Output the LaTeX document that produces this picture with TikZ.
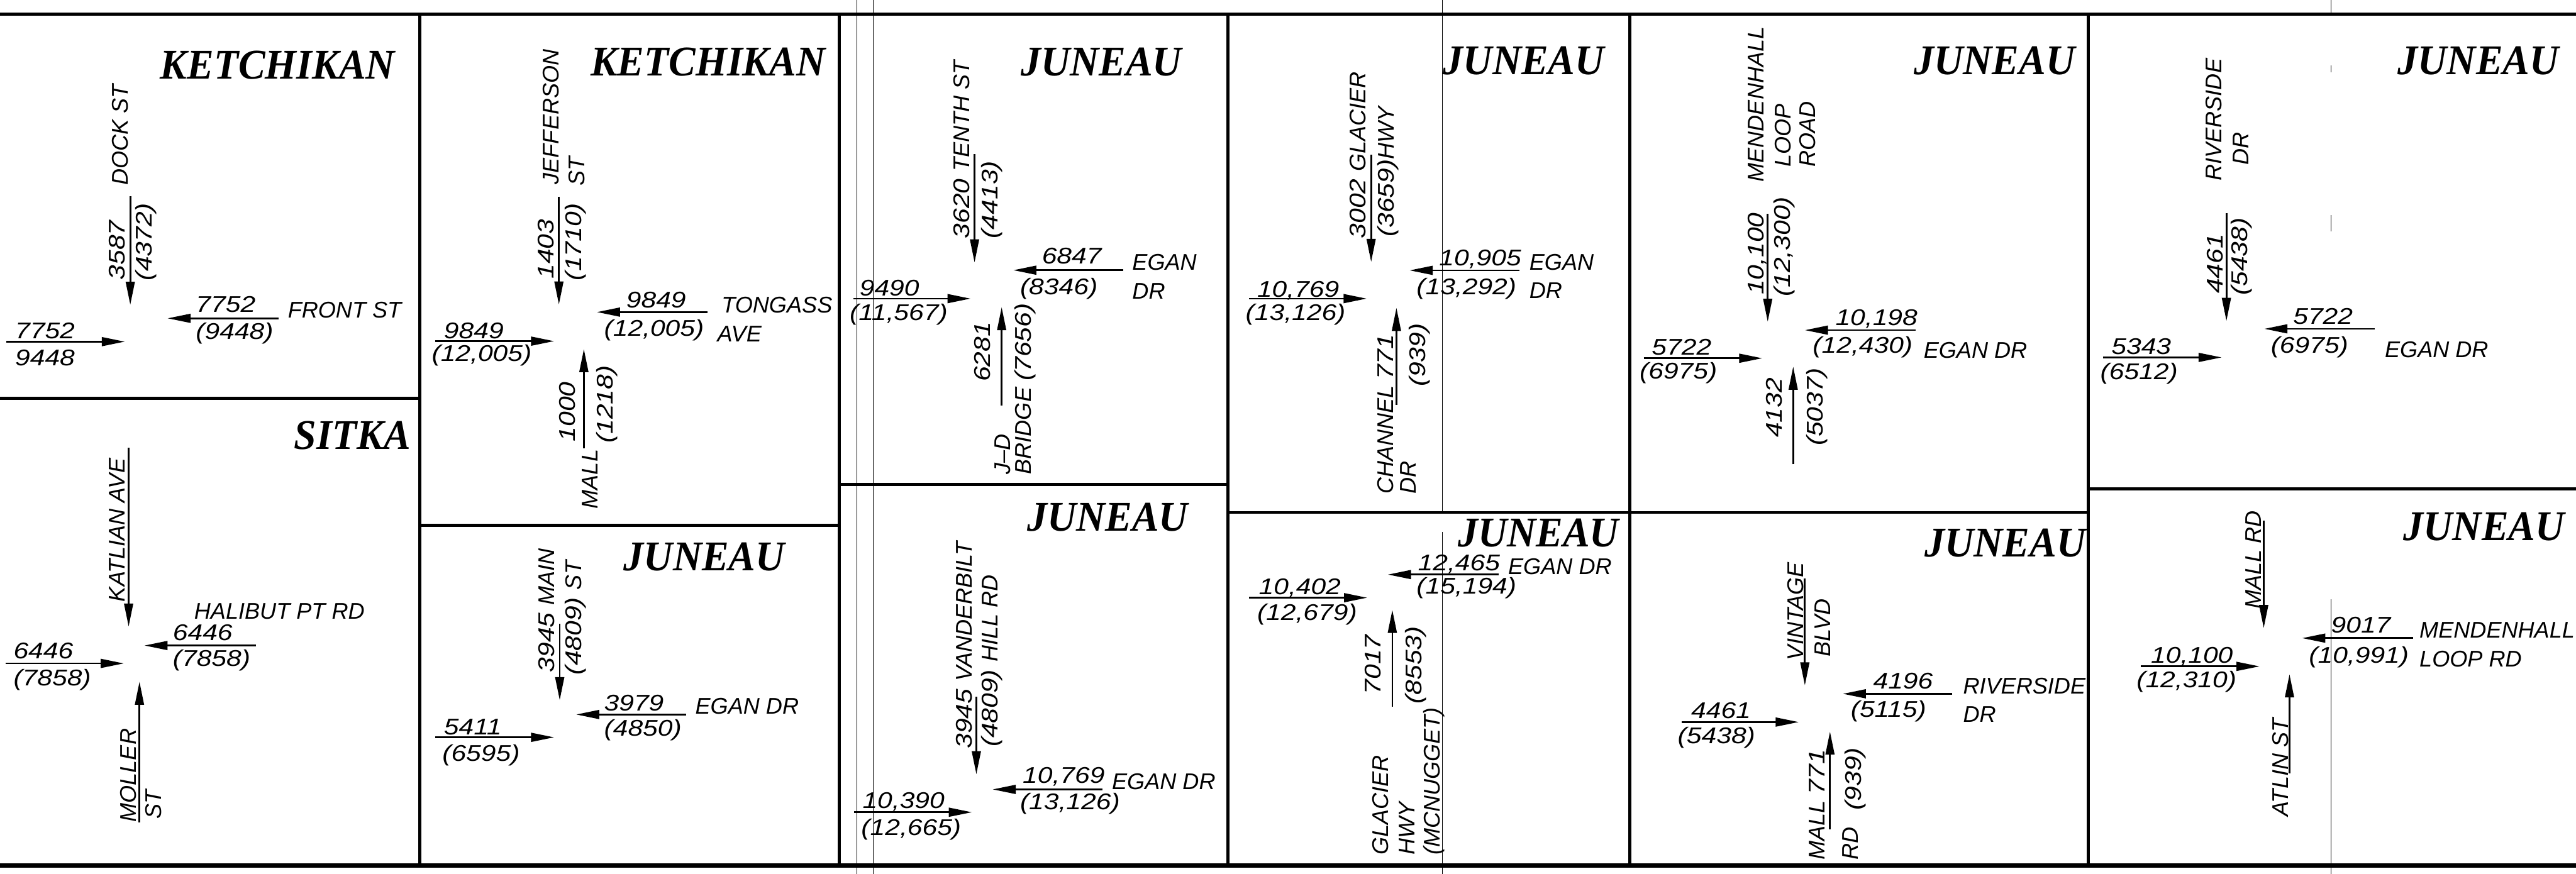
\documentclass[tikz,border=0pt]{standalone}
\usepackage{fontspec}
\usetikzlibrary{arrows.meta}
\newfontfamily\cadf[FakeStretch=1.0]{Liberation Sans}
\newfontfamily\cadn[FakeStretch=1.18]{Liberation Sans}
\newfontfamily\cityf[FakeStretch=0.95]{Liberation Serif}
\newcommand\arw[5]{\coordinate (#1a) at (#2,#3); \coordinate (#1b) at (#4,#5); \draw[arr] (#1a) -- (#1b);}
\begin{document}
\begin{tikzpicture}[x=0.03cm, y=-0.03cm,
  border/.style={line width=1.6pt},
  thinln/.style={line width=0.35pt},
  arr/.style={line width=0.9pt, -{Triangle[length=12pt,width=4.6pt]}},
  num/.style={font=\cadn\itshape\fontsize{11.8}{13}\selectfont, inner sep=0pt, anchor=base west},
  lbl/.style={font=\cadf\itshape\fontsize{11.8}{13}\selectfont, inner sep=0pt, anchor=base west},
  vnum/.style={num, rotate=90},
  vlbl/.style={lbl, rotate=90},
  city/.style={font=\cityf\bfseries\itshape\fontsize{22}{24}\selectfont, inner sep=0pt, anchor=base},
]
\useasboundingbox (0,0) rectangle (1568,532);
% frame
\draw[border] (0,8.7) -- (1568,8.7);
\draw[line width=2.2pt] (0,527) -- (1568,527);
\foreach \xx in {255.5,511,747.5,992,1271} \draw[border] (\xx,8.7) -- (\xx,527);
\draw[border] (0,242.5) -- (255.5,242.5);
\draw[border] (255.5,320) -- (511,320);
\draw[border] (511,295) -- (747.5,295);
\draw[border] (747.5,312) -- (1271,312);
\draw[border] (1271,297.5) -- (1568,297.5);
% thin scan lines
\draw[thinln] (521.5,0) -- (521.5,532);
\draw[thinln] (531.5,0) -- (531.5,532);
\draw[thinln] (878,0) -- (878,312.4);
\draw[thinln] (878,324) -- (878,532);
\draw[thinln] (1419,0) -- (1419,8.7);
\draw[thinln] (1419,40) -- (1419,44);
\draw[thinln] (1419,131) -- (1419,141);
\draw[thinln] (1419,365) -- (1419,532);

% Panel 1
\node[city] (t1) at (169,48) {KETCHIKAN};
\node[vlbl] (p1s1) at (78,113) {DOCK ST};
\node[vnum] (p1n1) at (76,170.7) {3587};
\node[vnum] (p1n2) at (92.5,171) {(4372)};
\arw{p1d}{79.3}{119.5}{79.3}{185.6}
\node[num] (p1n3) at (9,206) {7752};
\node[num] (p1n4) at (9,222.6) {9448};
\arw{p1e}{4}{208}{76}{208}
\node[num] (p1n5) at (119,190) {7752};
\node[num] (p1n6) at (119,206.5) {(9448)};
\arw{p1w}{169.5}{193.8}{102}{193.8}
\node[lbl] (p1s2) at (175,193.5) {FRONT ST};

% Panel 2
\node[city] (t2) at (214.5,273.5) {SITKA};
\node[vlbl] (p2s1) at (76,366.6) {KATLIAN AVE};
\arw{p2d}{78.3}{272.6}{78.3}{381.5}
\node[lbl] (p2s2) at (118,376.9) {HALIBUT PT RD};
\node[num] (p2n1) at (105,390) {6446};
\node[num] (p2n2) at (105,405.5) {(7858)};
\arw{p2w}{155.8}{393}{87.9}{393}
\node[num] (p2n3) at (8,401) {6446};
\node[num] (p2n4) at (8,417.6) {(7858)};
\arw{p2e}{3.3}{403.9}{75.4}{403.9}
\arw{p2u}{84.9}{500.7}{84.9}{415}
\node[vlbl] (p2s3) at (83,500.7) {MOLLER};
\node[vlbl] (p2s4) at (98,499) {ST};

% Panel 3
\node[city] (t3) at (431,46) {KETCHIKAN};
\node[vlbl] (p3s1) at (340,112.5) {JEFFERSON};
\node[vlbl] (p3s2) at (355.8,113.5) {ST};
\arw{p3d}{340.2}{119.8}{340.2}{185.4}
\node[vnum] (p3n1) at (337,170) {1403};
\node[vnum] (p3n2) at (354,171) {(1710)};
\arw{p3e}{265}{207.7}{337.3}{207.7}
\node[num] (p3n3) at (270,206) {9849};
\node[num] (p3n4) at (262.6,220) {(12,005)};
\arw{p3w}{430.5}{190}{363.3}{190}
\node[num] (p3n5) at (381,187.5) {9849};
\node[num] (p3n6) at (367.5,204.6) {(12,005)};
\node[lbl] (p3s3) at (439,190.6) {TONGASS};
\node[lbl] (p3s4) at (436.4,208) {AVE};
\arw{p3u}{355.4}{273}{355.4}{212.5}
\node[vnum] (p3n7) at (350,269) {1000};
\node[vnum] (p3n8) at (373,270) {(1218)};
\node[vlbl] (p3s5) at (364,310) {MALL};

% Panel 4
\node[city] (t4) at (428.7,347.5) {JUNEAU};
\node[vnum] (p4s1) at (337.3,409.6) {3945 \cadf MAIN};
\node[vnum] (p4s2) at (354,411) {(4809) \cadf ST};
\arw{p4d}{340.7}{379.6}{340.7}{426.3}
\arw{p4w}{417.6}{435}{350.7}{435}
\node[num] (p4n1) at (367.5,432.6) {3979};
\node[num] (p4n2) at (367.5,448) {(4850)};
\node[lbl] (p4s3) at (423,434.6) {EGAN DR};
\arw{p4e}{265}{448.9}{337.3}{448.9}
\node[num] (p4n3) at (270,447.2) {5411};
\node[num] (p4n4) at (269,463.5) {(6595)};

% Panel 5
\node[city] (t5) at (670.3,46) {JUNEAU};
\node[vnum] (p5s1) at (590,145.4) {3620 \cadf TENTH ST};
\node[vnum] (p5n1) at (607.5,145.4) {(4413)};
\arw{p5d}{593.2}{93.8}{593.2}{159.8}
\arw{p5w}{683.6}{164.5}{616.8}{164.5}
\node[num] (p5n2) at (634,160.7) {6847};
\node[num] (p5n3) at (620.7,179.5) {(8346)};
\node[lbl] (p5s2) at (689,164.5) {EGAN};
\node[lbl] (p5s3) at (689,182) {DR};
\arw{p5e}{519.3}{181.8}{590.8}{181.8}
\node[num] (p5n4) at (523,180) {9490};
\node[num] (p5n5) at (517,195) {(11,567)};
\arw{p5u}{609.7}{246.8}{609.7}{187}
\node[vnum] (p5n6) at (602.6,232.5) {6281};
\node[vlbl] (p5s4) at (615,289) {J–D};
\node[vlbl] (p5s5) at (627.5,289) {BRIDGE \cadn(7656)};

% Panel 6
\node[city] (t6) at (674.2,323.2) {JUNEAU};
\node[vnum] (p6s1) at (591.6,456) {3945 \cadf VANDERBILT};
\node[vnum] (p6s2) at (607.5,455) {(4809) \cadf HILL RD};
\arw{p6d}{594.3}{424.3}{594.3}{471.4}
\arw{p6w}{671}{480.6}{604.2}{480.6}
\node[num] (p6n1) at (622.3,476.7) {10,769};
\node[num] (p6n2) at (620.7,493) {(13,126)};
\node[lbl] (p6s3) at (676.6,480.6) {EGAN DR};
\arw{p6e}{520}{494.5}{591.6}{494.5}
\node[num] (p6n3) at (524.8,492) {10,390};
\node[num] (p6n4) at (524,508.5) {(12,665)};

% Panel 7
\node[city] (t7) at (927.5,45.4) {JUNEAU};
\node[vnum] (p7s1) at (831.4,145.4) {3002 \cadf GLACIER};
\node[vnum] (p7s2) at (848.5,144.4) {(3659)\cadf HWY};
\arw{p7d}{834.6}{94}{834.6}{159.5}
\arw{p7w}{925}{164.6}{858}{164.6}
\node[num] (p7n1) at (875.8,161.6) {10,905};
\node[num] (p7n2) at (862,179.5) {(13,292)};
\node[lbl] (p7s3) at (930.7,164.6) {EGAN};
\node[lbl] (p7s4) at (930.7,181.8) {DR};
\arw{p7e}{760.3}{181.8}{831.9}{181.8}
\node[num] (p7n3) at (765,180.8) {10,769};
\node[num] (p7n4) at (758,195) {(13,126)};
\arw{p7u}{850}{246.4}{850}{187.4}
\node[vlbl] (p7s5) at (848.3,301) {CHANNEL \cadn 771};
\node[vlbl] (p7s6) at (862,301) {DR};
\node[vnum] (p7n5) at (867.5,235.3) {(939)};

% Panel 8
\node[city] (t8) at (936.4,333) {JUNEAU};
\arw{p8w}{912.2}{349.8}{844.8}{349.8}
\node[num] (p8n1) at (862.9,347.3) {12,465};
\node[num] (p8n2) at (862,361.7) {(15,194)};
\node[lbl] (p8s1) at (917.8,349.8) {EGAN DR};
\arw{p8e}{760.3}{363.9}{832.2}{363.9}
\node[num] (p8n3) at (766,362) {10,402};
\node[num] (p8n4) at (765,377.8) {(12,679)};
\arw{p8u}{847.5}{430.3}{847.5}{371.3}
\node[vnum] (p8n5) at (840.3,423) {7017};
\node[vnum] (p8n6) at (865.5,428.8) {(8553)};
\node[vlbl] (p8s2) at (845,520.8) {GLACIER};
\node[vlbl] (p8s3) at (861.3,520.8) {HWY};
\node[vlbl] (p8s4) at (876.5,520.8) {(MCNUGGET)};

% Panel 9
\node[city] (t9) at (1214,45.4) {JUNEAU};
\node[vlbl] (p9s1) at (1073.6,111) {MENDENHALL};
\node[vlbl] (p9s2) at (1090.2,102) {LOOP};
\node[vlbl] (p9s3) at (1105,102) {ROAD};
\arw{p9d}{1076}{130.3}{1076}{195.9}
\node[vnum] (p9n1) at (1073.6,179.7) {10,100};
\node[vnum] (p9n2) at (1089.5,180.8) {(12,300)};
\arw{p9w}{1166}{201}{1098.6}{201}
\node[num] (p9n3) at (1117,198) {10,198};
\node[num] (p9n4) at (1103.2,215) {(12,430)};
\node[lbl] (p9s4) at (1170.7,218) {EGAN DR};
\arw{p9e}{1000.5}{218.1}{1072.7}{218.1}
\node[num] (p9n5) at (1005.2,216) {5722};
\node[num] (p9n6) at (997.8,230.8) {(6975)};
\arw{p9u}{1091.5}{282.7}{1091.5}{223.2}
\node[vnum] (p9n7) at (1084.7,266.6) {4132};
\node[vnum] (p9n8) at (1109.5,271.6) {(5037)};

% Panel 10
\node[city] (t10) at (1220.6,339) {JUNEAU};
\node[vlbl] (p10s1) at (1097.6,402.2) {VINTAGE};
\node[vlbl] (p10s2) at (1114.3,400) {BLVD};
\arw{p10d}{1098.6}{352}{1098.6}{417.3}
\arw{p10w}{1188.3}{422.4}{1121.7}{422.4}
\node[num] (p10n1) at (1140,419.5) {4196};
\node[num] (p10n2) at (1126.3,436.7) {(5115)};
\node[lbl] (p10s3) at (1194.7,422.4) {RIVERSIDE};
\node[lbl] (p10s4) at (1194.7,439.6) {DR};
\arw{p10e}{1023.7}{439.6}{1094.9}{439.6}
\node[num] (p10n3) at (1029.2,437.5) {4461};
\node[num] (p10n4) at (1021,452.5) {(5438)};
\arw{p10u}{1113.9}{505}{1113.9}{445.4}
\node[vlbl] (p10s5) at (1110.6,523.7) {MALL \cadn 771};
\node[vlbl] (p10s6) at (1131,523.7) {RD};
\node[vnum] (p10n5) at (1133,493.5) {(939)};

% Panel 11
\node[city] (t11) at (1508.5,45.5) {JUNEAU};
\node[vlbl] (p11s1) at (1352.3,110.3) {RIVERSIDE};
\node[vlbl] (p11s2) at (1368.6,100.6) {DR};
\arw{p11d}{1355.2}{129.6}{1355.2}{195.4}
\node[vnum] (p11n1) at (1353.2,179) {4461};
\node[vnum] (p11n2) at (1368,180) {(5438)};
\arw{p11w}{1445.6}{200.2}{1378.3}{200.2}
\node[num] (p11n3) at (1395.6,197.3) {5722};
\node[num] (p11n4) at (1382,215) {(6975)};
\node[lbl] (p11s3) at (1451.4,217.6) {EGAN DR};
\arw{p11e}{1280.1}{217.6}{1352.3}{217.6}
\node[num] (p11n5) at (1285,215.7) {5343};
\node[num] (p11n6) at (1278.2,231) {(6512)};

% Panel 12
\node[city] (t12) at (1512,329.1) {JUNEAU};
\node[vlbl] (p12s1) at (1376.3,371) {MALL RD};
\arw{p12d}{1377.9}{316.9}{1377.9}{382.4}
\arw{p12w}{1468.7}{388.5}{1401.3}{388.5}
\node[num] (p12n1) at (1418.7,385.4) {9017};
\node[num] (p12n2) at (1405.2,403.5) {(10,991)};
\node[lbl] (p12s2) at (1472.5,388.5) {MENDENHALL};
\node[lbl] (p12s3) at (1472.5,406) {LOOP RD};
\arw{p12e}{1303.2}{405.7}{1375.4}{405.7}
\node[num] (p12n3) at (1309,403.7) {10,100};
\node[num] (p12n4) at (1300.3,418.5) {(12,310)};
\arw{p12u}{1393.6}{470.7}{1393.6}{410.5}
\node[vlbl] (p12s4) at (1392.7,497.3) {ATLIN ST};
\end{tikzpicture}
\end{document}
